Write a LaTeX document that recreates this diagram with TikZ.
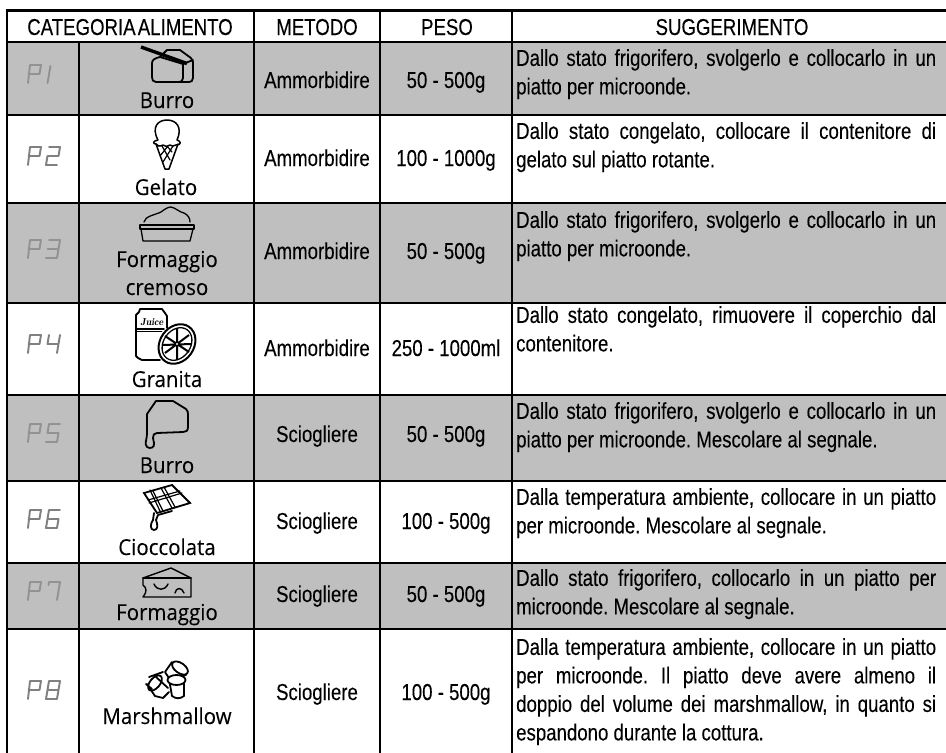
\documentclass[tikz,border=0pt]{standalone}
\usepackage{fontspec}
\setmainfont{Liberation Sans}
\newfontfamily\tabf[FakeStretch=0.81,FakeBold=0.15]{Liberation Sans}
\newfontfamily\labf[FakeStretch=0.93,FakeBold=0.1]{Open Sans}
\frenchspacing
\definecolor{rowgrey}{HTML}{BFBFBF}
\definecolor{lcdw}{HTML}{808080}
\definecolor{lcdg}{HTML}{929292}
\def\dP{(1,9)--(3,-9)--(14,-9)--(12.5,0)--(1.5,0)}
\def\dA{(4.5,-8)--(3,0) (3,1)--(1.5,9)}
\def\dB{(3,-9)--(14,-9)--(12.5,0)--(1.5,0)--(0,9)--(11,9)}
\def\dC{(3,-9)--(14,-9)--(11,9)--(0,9) (1.5,0)--(12.5,0)}
\def\dD{(3,-9)--(1.5,0)--(12.5,0) (14,-9)--(11,9)}
\def\dE{(14,-9)--(3,-9)--(1.5,0)--(12.5,0)--(11,9)--(0,9)}
\def\dF{(14,-9)--(3,-9)--(0,9)--(11,9)--(12.5,0)--(1.5,0)}
\def\dG{(2.5,-6)--(3,-9)--(14,-9)--(11,9)}
\def\dH{(3,-9)--(14,-9)--(11,9)--(0,9)--cycle (1.5,0)--(12.5,0)}
\newcommand\lcdpair[4]{%
  \draw[lcd,#4,shift={(27,#1)}] \dP;
  \draw[lcd,#4,shift={(#2,#1)}] #3;}
\tikzset{
  rule/.style={line width=2.6pt,black},
  head/.style={font=\tabf\fontsize{23}{28.5}\selectfont,anchor=base,inner sep=0pt},
  cell/.style={font=\tabf\fontsize{23}{28.5}\selectfont,anchor=base,inner sep=0pt},
  foodname/.style={font=\labf\fontsize{22}{28}\selectfont,anchor=base,inner sep=0pt},
  tip/.style={font=\tabf\fontsize{23}{28.5}\selectfont,anchor=north west,inner sep=0pt,text width=420pt,align=justify},
  lcd/.style={line width=1.9pt,line join=round,line cap=round},
  icon/.style={line width=1.8pt,black,line join=round,line cap=round},
}
\begin{document}
\begin{tikzpicture}[x=1pt,y=-1pt]
\useasboundingbox (0,0) rectangle (946,753);
\fill[white] (0,0) rectangle (946,753);
% grey rows
\foreach \a/\b in {42/115,203/303,395/481,563/629}
  \fill[rowgrey] (7,\a) rectangle (946,\b);
% rules
\foreach \yy in {10.5,42,115,203,303,395,481,563,629}
  \draw[rule] (6,\yy) -- (946,\yy);
\draw[rule] (7,9) -- (7,753);
\draw[rule] (79,42) -- (79,753);
\foreach \xx in {254,380,512}
  \draw[rule] (\xx,9) -- (\xx,753);
% headers
\node[head] (h1) at (130,35) {CATEGORIA\hspace{-3pt} ALIMENTO};
\node[head] (h2) at (317,35) {METODO};
\node[head] (h3) at (447,35) {PESO};
\node[head] (h4) at (732,35) {SUGGERIMENTO};
% LCD
\lcdpair{74}{46}{\dA}{lcdg}
\lcdpair{156}{46}{\dB}{lcdw}
\lcdpair{249}{46}{\dC}{lcdg}
\lcdpair{344}{46}{\dD}{lcdw}
\lcdpair{433}{46}{\dE}{lcdg}
\lcdpair{519}{46}{\dF}{lcdw}
\lcdpair{591}{46}{\dG}{lcdg}
\lcdpair{690}{46}{\dH}{lcdw}
% food names
\node[foodname] (f1) at (167,108) {Burro};
\node[foodname] (f2) at (166,195) {Gelato};
\node[foodname] (f3a) at (167,267) {Formaggio};
\node[foodname] (f3b) at (167,295) {cremoso};
\node[foodname] (f4) at (167,387) {Granita};
\node[foodname] (f5) at (167,473) {Burro};
\node[foodname] (f6) at (167,555) {Cioccolata};
\node[foodname] (f7) at (167,620) {Formaggio};
\node[foodname] (f8) at (167,724) {Marshmallow};
% methods
\foreach \n/\yy/\t in {1/88/Ammorbidire,2/166/Ammorbidire,3/259/Ammorbidire,4/356/Ammorbidire,5/442/Sciogliere,6/529/Sciogliere,7/602/Sciogliere,8/700/Sciogliere}
  \node[cell] (m\n) at (317,\yy) {\t};
\foreach \n/\yy/\t in {1/88/50 - 500g,2/166/100 - 1000g,3/259/50 - 500g,4/356/250 - 1000ml,5/442/50 - 500g,6/529/100 - 500g,7/602/50 - 500g,8/700/100 - 500g}
  \node[cell] (w\n) at (446,\yy) {\t};
% tips
\node[tip] (t1) at (516,49) {Dallo stato frigorifero, svolgerlo e collocarlo in un\linebreak piatto per microonde.};
\node[tip] (t2) at (516,122) {Dallo stato congelato, collocare il contenitore di\linebreak gelato sul piatto rotante.};
\node[tip] (t3) at (516,211) {Dallo stato frigorifero, svolgerlo e collocarlo in un\linebreak piatto per microonde.};
\node[tip] (t4) at (516,306) {Dallo stato congelato, rimuovere il coperchio dal\linebreak contenitore.};
\node[tip] (t5) at (516,402) {Dallo stato frigorifero, svolgerlo e collocarlo in un\linebreak piatto per microonde. Mescolare al segnale.};
\node[tip] (t6) at (516,488) {Dalla temperatura ambiente, collocare in un piatto\linebreak per microonde. Mescolare al segnale.};
\node[tip] (t7) at (516,569) {Dallo stato frigorifero, collocarlo in un piatto per\linebreak microonde. Mescolare al segnale.};
\node[tip] (t8) at (516,638) {Dalla temperatura ambiente, collocare in un piatto\linebreak per microonde. Il piatto deve avere almeno il\linebreak doppio del volume dei marshmallow, in quanto si\linebreak espandono durante la cottura.};
% icon: butter block with knife
\draw[icon] (160,57) -- (167,50) -- (180,50) -- (191,58) -- (193,62) -- (193,78) .. controls (193,81) and (191,82) .. (189,82) -- (156,82) .. controls (153,82) and (152,80) .. (152,77) -- (152,63) .. controls (152,60) and (155,58) .. (160,57);
\draw[icon] (183,64) -- (183,78) .. controls (183,81) and (181,82) .. (179,82);
\draw[icon] (160,57) -- (183,64) -- (193,60);
\draw[black,line width=3.4pt] (141,47) -- (187,63.5);
% icon: ice cream
\draw[icon,line width=1.5pt] (158,140) .. controls (151,127) and (158,120) .. (167,120) .. controls (176,120) and (183,127) .. (177,140) .. controls (181,141) and (182,145) .. (176,145) .. controls (174,147) and (171,146) .. (170,145) .. controls (168,147) and (165,147) .. (163,145) .. controls (160,147) and (157,146) .. (156,144) .. controls (153,144) and (152,141) .. (158,140);
\draw[icon,line width=1.5pt] (156,144) -- (165,169) -- (169,169) -- (178,144);
\draw[icon,line width=1.2pt] (162,146) -- (170,160) (167,146) -- (172,152) (173,146) -- (163,162) (168,146) -- (160,156);
% icon: cream cheese tub
\draw[icon,line width=1.3pt] (144,222) .. controls (145,216) and (155,215) .. (161,212) .. controls (165,209) and (168,207) .. (171,207) .. controls (176,208) and (179,212) .. (184,213) .. controls (188,215) and (190,218) .. (190,222);
\draw[icon,line width=1.3pt] (140,225) -- (194,225) -- (194,229) -- (140,229) -- cycle;
\draw[icon,line width=1.3pt] (141,229) -- (143,241) -- (190,241) -- (193,229);
% icon: juice can with orange
\draw[icon] (160,360) -- (142,360) -- (138,358) -- (136,356) -- (136,315) -- (139,312) -- (140,309) -- (162,309) -- (165,313) -- (167,316) -- (167,328);
\draw[icon] (136,329) -- (164,329);
\draw[icon,line width=0.8pt] (136,331) -- (162,331);
\node[font=\fontfamily{lmr}\itshape\bfseries\fontsize{10}{10}\selectfont,inner sep=0pt] (juice) at (152,322) {Juice};
\draw[fill=white,line width=2pt,rotate around={-35:(177,344)}] (177,344) ellipse (17pt and 21pt);
\draw[line width=1.3pt,rotate around={-35:(177,344)}] (177,344) ellipse (13.5pt and 17.5pt);
\draw[line width=2pt] (165,336) -- (189,352) (177,328) -- (177,360) (189,335) -- (165,353) (163,345) -- (191,344);
\fill[white] (177,344) circle (1.2pt);
% icon: melting butter
\draw[icon] (147,414) -- (156,401) -- (173,401) -- (186,409) .. controls (188,411) and (188,412) .. (188,415) -- (188,427) .. controls (188,431) and (186,432) .. (183,432) -- (157,433) .. controls (154,433) and (153,435) .. (153,438) -- (154,443) .. controls (155,448) and (150,449) .. (147,447) .. controls (144,444) and (147,439) .. (147,434) -- (147,414);
% icon: melting chocolate
\draw[icon,line join=miter] (144,493) -- (172,485) -- (190,503) -- (157,513) -- cycle;
\draw[icon,line width=1.2pt] (150,490) -- (160,511) (153,491) -- (163,511) (161,488) -- (172,508) (164,487) -- (175,507);
\draw[icon,line width=1.2pt] (148,500) -- (180,491) (149,503) -- (182,493);
\draw[icon] (154,513) -- (153,520) .. controls (150,524) and (150,530) .. (154,530) .. controls (158,530) and (158,525) .. (156,520) -- (158,515) -- (172,511);
% icon: cheese wedge
\draw[icon,line width=1.4pt] (143,578) -- (171,568) -- (191,578) -- (191,597) -- (143,597) .. controls (147,592) and (147,588) .. (143,585) -- cycle;
\draw[icon,line width=1.4pt] (143,578) -- (191,578);
\draw[icon,line width=1.4pt] (154,584) .. controls (157,591) and (165,591) .. (168,584);
\draw[icon,line width=1.4pt] (175,593) .. controls (176,587) and (182,587) .. (184,593);
% icon: marshmallows
\draw[icon,rotate around={55:(180,668)}] (180,668) ellipse (5pt and 9pt);
\draw[icon] (172,662) -- (165,672) -- (169,678);
\draw[icon] (176,677) -- (186,675);
\draw[icon,fill=white,rotate around={-40:(155,683)}] (155,683) ellipse (5pt and 9pt);
\draw[icon] (149,677) -- (163,672)  (152,689) -- (146,684);
\draw[icon] (147,684) -- (155,696) -- (163,698) -- (169,692);
\draw[icon] (156,677) -- (168,688);
\draw[icon] (169,679) -- (172,696) .. controls (176,699) and (180,699) .. (184,696) -- (184,677);
\draw[icon,fill=white] (176.5,680) ellipse (9pt and 5pt);
\end{tikzpicture}
\end{document}
